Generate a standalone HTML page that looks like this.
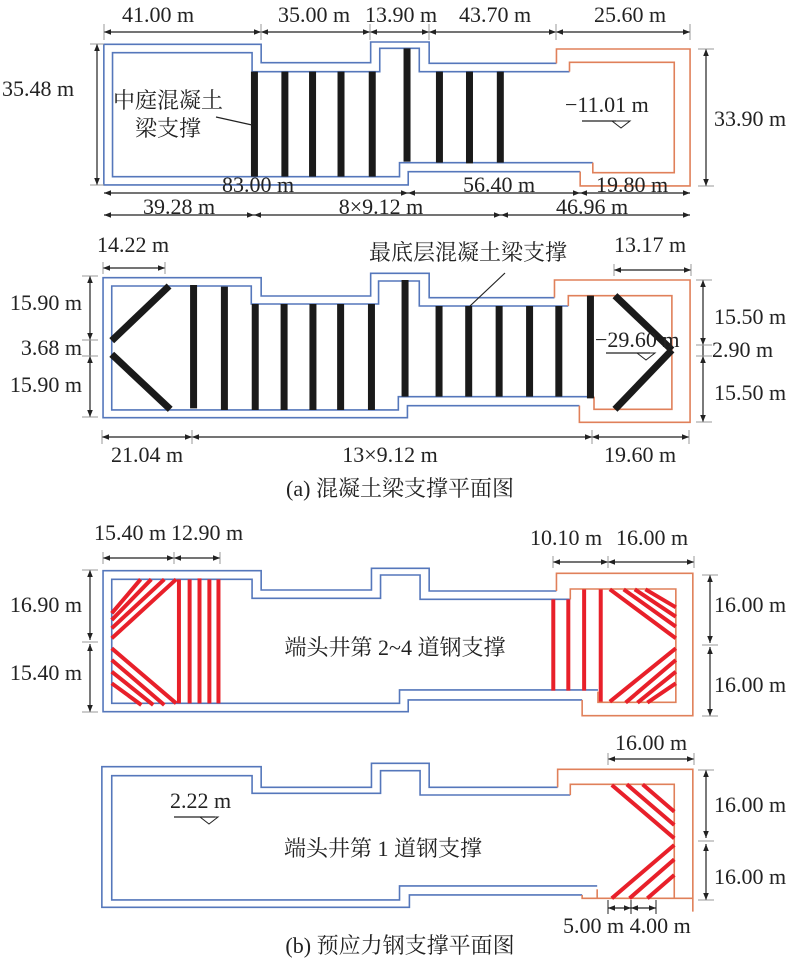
<!DOCTYPE html>
<html><head><meta charset="utf-8"><style>
html,body{margin:0;padding:0;background:#fff;}
svg{display:block;}
text{font-family:"Liberation Serif","Noto Serif CJK SC",serif;font-size:22px;fill:#222;}
.cj{font-family:"Liberation Serif","Noto Serif CJK SC",serif;}
.b{fill:none;stroke:#5577bb;stroke-width:1.6;vector-effect:non-scaling-stroke;}
.o{fill:none;stroke:#e0805a;stroke-width:1.6;vector-effect:non-scaling-stroke;}
.k line{stroke:#1a1a1a;stroke-width:7;vector-effect:non-scaling-stroke;}
.r line{stroke:#e8202a;stroke-width:4;vector-effect:non-scaling-stroke;}
.d{stroke:#222;stroke-width:1.2;fill:none;}
.t{stroke:#999;stroke-width:1;}
</style></head><body>
<svg width="800" height="969" viewBox="0 0 800 969" xmlns="http://www.w3.org/2000/svg">
<defs>
<marker id="a" viewBox="0 0 10 10" refX="10" refY="5" markerWidth="9" markerHeight="7" markerUnits="userSpaceOnUse" orient="auto-start-reverse"><path d="M0,1 L10,5 L0,9 z" fill="#222"/></marker>
</defs>

<!-- ========== PANEL 1 ========== -->
<g transform="translate(90,0) scale(0.3953,0.3333)">
<path class="b" d="M1180,190 L858,190 L858,126 L710,126 L710,188 L433,188 L433,133 L35,133 L35,555 L805,555 L805,515 L1240,515"/>
<path class="o" d="M1180,190 L1180,147 L1518,147 L1518,558 L1240,558 L1240,515"/>
<path class="b" d="M1213,215 L833,215 L833,145 L733,145 L733,215 L410,215 L410,158 L57,158 L57,530 L783,530 L783,488 L1272,488"/>
<path class="o" d="M1213,215 L1213,187 L1478,187 L1478,518 L1272,518 L1272,488"/>
<g class="k">
<line x1="416" y1="215" x2="416" y2="530"/><line x1="493" y1="215" x2="493" y2="530"/><line x1="563" y1="215" x2="563" y2="530"/><line x1="635" y1="215" x2="635" y2="530"/><line x1="714" y1="215" x2="714" y2="530"/>
<line x1="802" y1="145" x2="802" y2="485"/><line x1="884" y1="215" x2="884" y2="488"/><line x1="960" y1="215" x2="960" y2="490"/><line x1="1038" y1="215" x2="1038" y2="488"/>
</g>
</g>
<text class="cj" x="113" y="108">中庭混凝土</text>
<text class="cj" x="135" y="136">梁支撑</text>
<line x1="216" y1="117" x2="252" y2="125" stroke="#222" stroke-width="1.2"/>
<text x="565" y="112">−11.01 m</text>
<line x1="582" y1="121" x2="616" y2="121" stroke="#222" stroke-width="1.2"/>
<path d="M612,121 L630,121 L621,128 z" fill="none" stroke="#222" stroke-width="1"/>

<g class="d">
<line x1="104" y1="32" x2="261" y2="32" marker-start="url(#a)" marker-end="url(#a)"/>
<line x1="261" y1="32" x2="370" y2="32" marker-start="url(#a)" marker-end="url(#a)"/>
<line x1="370" y1="32" x2="429" y2="32" marker-start="url(#a)" marker-end="url(#a)"/>
<line x1="429" y1="32" x2="556" y2="32" marker-start="url(#a)" marker-end="url(#a)"/>
<line x1="556" y1="32" x2="690" y2="32" marker-start="url(#a)" marker-end="url(#a)"/>
<line x1="104" y1="193" x2="408" y2="193" marker-start="url(#a)" marker-end="url(#a)"/>
<line x1="408" y1="193" x2="580" y2="193" marker-start="url(#a)" marker-end="url(#a)"/>
<line x1="580" y1="193" x2="690" y2="193" marker-start="url(#a)" marker-end="url(#a)"/>
<line x1="104" y1="215" x2="254" y2="215" marker-start="url(#a)" marker-end="url(#a)"/>
<line x1="254" y1="215" x2="501" y2="215" marker-start="url(#a)" marker-end="url(#a)"/>
<line x1="501" y1="215" x2="690" y2="215" marker-start="url(#a)" marker-end="url(#a)"/>
<line x1="97" y1="44" x2="97" y2="185" marker-start="url(#a)" marker-end="url(#a)"/>
<line x1="706" y1="49" x2="706" y2="186" marker-start="url(#a)" marker-end="url(#a)"/>
</g>
<g class="t">
<line x1="104" y1="24" x2="104" y2="40"/><line x1="261" y1="24" x2="261" y2="40"/><line x1="370" y1="24" x2="370" y2="40"/><line x1="429" y1="24" x2="429" y2="40"/><line x1="556" y1="24" x2="556" y2="40"/><line x1="690" y1="24" x2="690" y2="40"/>
<line x1="90" y1="44" x2="104" y2="44"/><line x1="90" y1="185" x2="104" y2="185"/>
<line x1="698" y1="49" x2="714" y2="49"/><line x1="698" y1="186" x2="714" y2="186"/>
</g>
<g text-anchor="middle">
<text x="158" y="22">41.00 m</text><text x="314" y="22">35.00 m</text><text x="401" y="22">13.90 m</text><text x="495" y="22">43.70 m</text><text x="630" y="22">25.60 m</text>
<text x="258" y="192">83.00 m</text><text x="499" y="192">56.40 m</text><text x="632" y="192">19.80 m</text>
<text x="179" y="214">39.28 m</text><text x="381" y="214">8×9.12 m</text><text x="592" y="214">46.96 m</text>
</g>
<text x="2" y="96">35.48 m</text>
<text x="714" y="126">33.90 m</text>

<!-- ========== PANEL 2 ========== -->
<g transform="translate(90,230) scale(0.3953,0.3333)">
<path class="b" d="M1175,203 L858,203 L858,130 L710,130 L710,198 L433,198 L433,143 L33,143 L33,563 L803,563 L803,527 L1238,527"/>
<path class="o" d="M1175,203 L1175,150 L1518,150 L1518,577 L1238,577 L1238,527"/>
<path class="b" d="M1210,228 L833,228 L833,153 L730,153 L730,222 L408,222 L408,168 L55,168 L55,540 L780,540 L780,500 L1275,500"/>
<path class="o" d="M1210,228 L1210,197 L1472,197 L1472,538 L1275,538 L1275,500"/>
<g class="k">
<line x1="262" y1="165" x2="262" y2="535"/><line x1="340" y1="170" x2="340" y2="540"/>
<line x1="418" y1="222" x2="418" y2="540"/><line x1="491" y1="222" x2="491" y2="540"/><line x1="564" y1="222" x2="564" y2="540"/><line x1="634" y1="222" x2="634" y2="540"/><line x1="712" y1="222" x2="712" y2="540"/>
<line x1="797" y1="150" x2="797" y2="500"/>
<line x1="883" y1="228" x2="883" y2="500"/><line x1="958" y1="228" x2="958" y2="500"/><line x1="1035" y1="228" x2="1035" y2="500"/><line x1="1112" y1="228" x2="1112" y2="500"/><line x1="1186" y1="228" x2="1186" y2="500"/>
<line x1="1266" y1="197" x2="1266" y2="505"/>
<line x1="55" y1="332" x2="200" y2="168"/><line x1="55" y1="373" x2="203" y2="538"/>
<line x1="1328" y1="197" x2="1472" y2="360"/><line x1="1472" y1="360" x2="1328" y2="538"/>
</g>
</g>
<text class="cj" x="369" y="260">最底层混凝土梁支撑</text>
<line x1="505" y1="273" x2="470" y2="306" stroke="#222" stroke-width="1.2"/>
<text x="595" y="347">−29.60 m</text>
<line x1="606" y1="353" x2="650" y2="353" stroke="#222" stroke-width="1.2"/>
<path d="M637,353 L655,353 L646,360 z" fill="none" stroke="#222" stroke-width="1"/>
<g class="d">
<line x1="103" y1="268" x2="165" y2="268" marker-start="url(#a)" marker-end="url(#a)"/>
<line x1="614" y1="270" x2="691" y2="270" marker-start="url(#a)" marker-end="url(#a)"/>
<line x1="102" y1="437" x2="192" y2="437" marker-start="url(#a)" marker-end="url(#a)"/>
<line x1="192" y1="437" x2="592" y2="437" marker-start="url(#a)" marker-end="url(#a)"/>
<line x1="592" y1="437" x2="689" y2="437" marker-start="url(#a)" marker-end="url(#a)"/>
<line x1="90" y1="276" x2="90" y2="340" marker-start="url(#a)" marker-end="url(#a)"/>
<line x1="90" y1="340" x2="90" y2="356"/>
<line x1="90" y1="356" x2="90" y2="417" marker-start="url(#a)" marker-end="url(#a)"/>
<line x1="703" y1="280" x2="703" y2="345" marker-start="url(#a)" marker-end="url(#a)"/>
<line x1="703" y1="345" x2="703" y2="356"/>
<line x1="703" y1="356" x2="703" y2="422" marker-start="url(#a)" marker-end="url(#a)"/>
</g>
<g class="t">
<line x1="103" y1="262" x2="103" y2="274"/><line x1="165" y1="262" x2="165" y2="274"/>
<line x1="614" y1="264" x2="614" y2="276"/><line x1="691" y1="264" x2="691" y2="276"/>
<line x1="102" y1="430" x2="102" y2="444"/><line x1="192" y1="430" x2="192" y2="444"/><line x1="592" y1="430" x2="592" y2="444"/><line x1="689" y1="430" x2="689" y2="444"/>
<line x1="82" y1="276" x2="98" y2="276"/><line x1="82" y1="340" x2="98" y2="340"/><line x1="82" y1="356" x2="98" y2="356"/><line x1="82" y1="417" x2="98" y2="417"/>
<line x1="696" y1="280" x2="712" y2="280"/><line x1="696" y1="345" x2="712" y2="345"/><line x1="696" y1="356" x2="712" y2="356"/><line x1="696" y1="422" x2="712" y2="422"/>
</g>
<g text-anchor="middle">
<text x="133" y="252">14.22 m</text><text x="650" y="252">13.17 m</text>
<text x="147" y="462">21.04 m</text><text x="390" y="462">13×9.12 m</text><text x="640" y="462">19.60 m</text>
</g>
<g text-anchor="end">
<text x="82" y="310">15.90 m</text><text x="82" y="355">3.68 m</text><text x="82" y="392">15.90 m</text>
</g>
<text x="714" y="324">15.50 m</text><text x="712" y="357">2.90 m</text><text x="714" y="400">15.50 m</text>
<text class="cj" x="400" y="496" text-anchor="middle">(a) 混凝土梁支撑平面图</text>

<!-- ========== PANEL 3 ========== -->
<g transform="translate(90,520) scale(0.3953,0.3333)">
<path class="b" d="M1180,213 L858,213 L858,145 L712,145 L712,210 L433,210 L433,152 L33,152 L33,575 L805,575 L805,540 L1245,540"/>
<path class="o" d="M1180,213 L1180,160 L1525,160 L1525,587 L1245,587 L1245,540"/>
<path class="b" d="M1215,238 L835,238 L835,165 L735,165 L735,235 L410,235 L410,178 L55,178 L55,550 L783,550 L783,510 L1285,510"/>
<path class="o" d="M1215,238 L1215,207 L1482,207 L1482,547 L1285,547 L1285,515"/>
<g class="r">
<line x1="225" y1="178" x2="225" y2="550"/><line x1="252" y1="178" x2="252" y2="550"/><line x1="277" y1="175" x2="277" y2="550"/><line x1="302" y1="178" x2="302" y2="550"/><line x1="325" y1="178" x2="325" y2="550"/>
<line x1="55" y1="355" x2="218" y2="178"/><line x1="55" y1="325" x2="188" y2="178"/><line x1="55" y1="300" x2="155" y2="178"/><line x1="55" y1="280" x2="128" y2="178"/>
<line x1="55" y1="385" x2="218" y2="550"/><line x1="55" y1="420" x2="188" y2="555"/><line x1="55" y1="455" x2="160" y2="555"/><line x1="55" y1="490" x2="130" y2="555"/>
<line x1="1172" y1="238" x2="1172" y2="512"/><line x1="1210" y1="238" x2="1210" y2="512"/><line x1="1250" y1="208" x2="1250" y2="512"/><line x1="1292" y1="208" x2="1292" y2="545"/>
<line x1="1482" y1="355" x2="1315" y2="208"/><line x1="1482" y1="320" x2="1350" y2="208"/><line x1="1482" y1="290" x2="1378" y2="208"/><line x1="1482" y1="262" x2="1405" y2="208"/>
<line x1="1482" y1="385" x2="1315" y2="545"/><line x1="1482" y1="420" x2="1355" y2="548"/><line x1="1482" y1="455" x2="1385" y2="548"/><line x1="1482" y1="490" x2="1410" y2="548"/>
</g>
</g>
<text class="cj" x="395" y="655" text-anchor="middle">端头井第 2~4 道钢支撑</text>
<g class="d">
<line x1="103" y1="558" x2="174" y2="558" marker-start="url(#a)" marker-end="url(#a)"/>
<line x1="174" y1="558" x2="220" y2="558" marker-start="url(#a)" marker-end="url(#a)"/>
<line x1="553" y1="562" x2="608" y2="562" marker-start="url(#a)" marker-end="url(#a)"/>
<line x1="608" y1="562" x2="694" y2="562" marker-start="url(#a)" marker-end="url(#a)"/>
<line x1="90" y1="570" x2="90" y2="640" marker-start="url(#a)" marker-end="url(#a)"/>
<line x1="90" y1="644" x2="90" y2="712" marker-start="url(#a)" marker-end="url(#a)"/>
<line x1="710" y1="575" x2="710" y2="643" marker-start="url(#a)" marker-end="url(#a)"/>
<line x1="710" y1="647" x2="710" y2="716" marker-start="url(#a)" marker-end="url(#a)"/>
</g>
<g class="t">
<line x1="103" y1="552" x2="103" y2="564"/><line x1="174" y1="552" x2="174" y2="564"/><line x1="220" y1="552" x2="220" y2="564"/>
<line x1="553" y1="556" x2="553" y2="568"/><line x1="608" y1="556" x2="608" y2="568"/><line x1="694" y1="556" x2="694" y2="568"/>
<line x1="82" y1="570" x2="98" y2="570"/><line x1="82" y1="642" x2="98" y2="642"/><line x1="82" y1="712" x2="98" y2="712"/>
<line x1="702" y1="575" x2="718" y2="575"/><line x1="702" y1="645" x2="718" y2="645"/><line x1="702" y1="716" x2="718" y2="716"/>
</g>
<g text-anchor="middle">
<text x="130" y="540">15.40 m</text><text x="207" y="540">12.90 m</text>
<text x="566" y="545">10.10 m</text><text x="652" y="545">16.00 m</text>
</g>
<g text-anchor="end"><text x="82" y="612">16.90 m</text><text x="82" y="680">15.40 m</text></g>
<text x="714" y="612">16.00 m</text><text x="714" y="692">16.00 m</text>

<!-- ========== PANEL 4 ========== -->
<g transform="translate(90,730) scale(0.3953,0.3333)">
<path class="b" d="M1183,172 L858,172 L858,100 L712,100 L712,172 L433,172 L433,110 L30,110 L30,532 L808,532 L808,495 L1245,495"/>
<path class="o" d="M1183,172 L1183,118 L1525,118 L1525,545"/>
<path class="o" d="M1245,495 L1245,505 L1525,505"/>
<path class="b" d="M1215,195 L835,195 L835,122 L735,122 L735,190 L410,190 L410,137 L55,137 L55,510 L783,510 L783,468 L1283,468"/>
<path class="o" d="M1215,195 L1215,163 L1478,163 L1478,505"/>
<path class="o" d="M1283,478 L1283,505"/>
<g class="r">
<line x1="1320" y1="165" x2="1478" y2="325"/><line x1="1358" y1="163" x2="1478" y2="285"/><line x1="1398" y1="163" x2="1478" y2="245"/>
<line x1="1320" y1="505" x2="1478" y2="345"/><line x1="1365" y1="505" x2="1478" y2="388"/><line x1="1410" y1="505" x2="1478" y2="435"/>
</g>
</g>
<text x="170" y="808">2.22 m</text>
<line x1="174" y1="817" x2="215" y2="817" stroke="#222" stroke-width="1.2"/>
<path d="M200,817 L218,817 L209,824 z" fill="none" stroke="#222" stroke-width="1"/>
<text class="cj" x="383" y="856" text-anchor="middle">端头井第 1 道钢支撑</text>
<g class="d">
<line x1="608" y1="759" x2="694" y2="759" marker-start="url(#a)" marker-end="url(#a)"/>
<line x1="706" y1="770" x2="706" y2="838" marker-start="url(#a)" marker-end="url(#a)"/>
<line x1="706" y1="844" x2="706" y2="900" marker-start="url(#a)" marker-end="url(#a)"/>
<line x1="608" y1="908" x2="631" y2="908" marker-start="url(#a)" marker-end="url(#a)"/>
<line x1="631" y1="908" x2="656" y2="908" marker-start="url(#a)" marker-end="url(#a)"/>
</g>
<g class="t">
<line x1="608" y1="753" x2="608" y2="765"/><line x1="694" y1="753" x2="694" y2="765"/>
<line x1="698" y1="770" x2="714" y2="770"/><line x1="698" y1="841" x2="714" y2="841"/><line x1="698" y1="900" x2="714" y2="900"/>
<line x1="608" y1="900" x2="608" y2="914" stroke="#222"/><line x1="631" y1="900" x2="631" y2="914" stroke="#222"/><line x1="656" y1="900" x2="656" y2="914" stroke="#222"/>
</g>
<text x="651" y="750" text-anchor="middle">16.00 m</text>
<text x="714" y="812">16.00 m</text><text x="714" y="884">16.00 m</text>
<text x="563" y="933">5.00 m 4.00 m</text>
<text class="cj" x="400" y="953" text-anchor="middle">(b) 预应力钢支撑平面图</text>
</svg>
</body></html>
